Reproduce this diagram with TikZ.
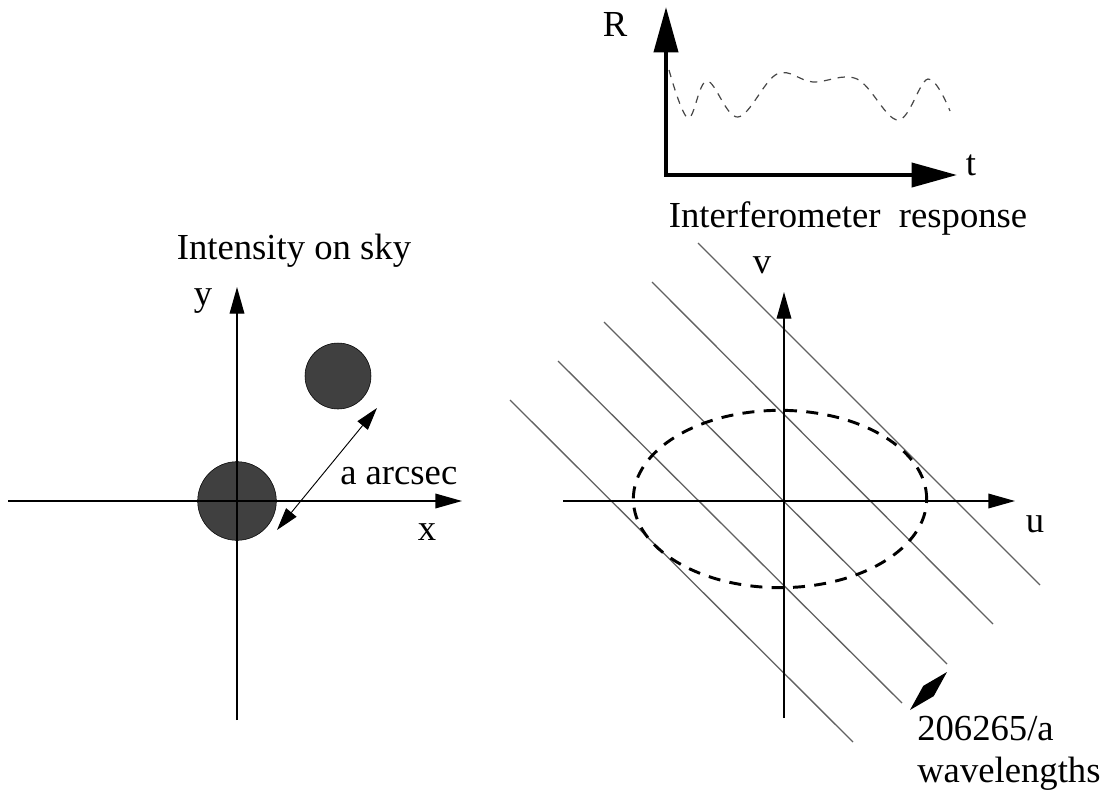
\documentclass[tikz,border=0pt]{standalone}
\usepackage{fontspec}
\setmainfont{Liberation Serif}
\usetikzlibrary{arrows.meta,calc}
\begin{document}
\begin{tikzpicture}[x=0.75pt,y=-0.75pt,
  lbl/.style={font=\fontsize{27.5}{33}\selectfont, inner sep=0pt, anchor=base},
  lblw/.style={font=\fontsize{27.5}{33}\selectfont, inner sep=0pt, anchor=base west},
  thinaxis/.style={line width=1pt, -{Triangle[length=20pt,width=11pt]}},
  bigaxis/.style={line width=3pt, line join=miter, {Triangle[length=34pt,width=18pt]}-{Triangle[length=34pt,width=18pt]}},
  sep/.style={line width=0.7pt, {Triangle[length=17pt,width=10pt]}-{Triangle[length=17pt,width=10pt]}},
  fringe/.style={line width=1pt, draw=black!62},
  ell/.style={line width=2.2pt, dash pattern=on 9pt off 7pt},
  resp/.style={line width=0.9pt, draw=black!72, dash pattern=on 5.5pt off 5pt},
  blob/.style={circle, fill=black!75, draw=black, line width=0.4pt, inner sep=0pt}]
\useasboundingbox (0,0) rectangle (1108,794);

% ---------- response plot (top) ----------
\coordinate (rtip) at (666,7);
\coordinate (corner) at (666,175);
\coordinate (ttip) at (957,175);
\draw[bigaxis] (rtip) -- (corner) -- (ttip);
\draw[resp] plot[smooth, tension=0.6] coordinates {(669,70) (688,118) (707,81) (738,117) (777,74) (813,82) (857,79) (898,120) (928,79) (950,111)};
\node[lbl] (R) at (615,36) {R};
\node[lbl] (t) at (971,175) {t};
\node[lbl] (resp) at (848,227) {Interferometer\ \ response};

% ---------- sky plot (left) ----------
\node[lbl] (sky) at (294,259) {Intensity on sky};
\coordinate (xl) at (8,501);
\coordinate (xr) at (462,501);
\coordinate (yb) at (237,720);
\coordinate (yt) at (237,287);
\node[blob, minimum size=59pt] (c1) at (237,501) {};
\node[blob, minimum size=49.5pt] (c2) at (338,376) {};
\draw[thinaxis] (xl) -- (xr);
\draw[thinaxis] (yb) -- (yt);
\node[lbl] (ylab) at (203,305) {y};
\node[lbl] (xlab) at (427,540) {x};
\coordinate (s1) at (277,530);
\coordinate (s2) at (377,408);
\draw[sep] (s1) -- (s2);
\node[lblw] (arc) at (340,484) {a arcsec};

% ---------- uv plane (right) ----------
\foreach \i/\xa/\ya/\xb/\yb in {1/510/400/853/742, 2/558/361/902/703, 3/604/322/947/664, 4/652/282/993/624, 5/698/243/1040/585}{
  \coordinate (fa\i) at (\xa,\ya);
  \coordinate (fb\i) at (\xb,\yb);
  \draw[fringe] (fa\i) -- (fb\i);
}
\coordinate (ul) at (563,501);
\coordinate (ur) at (1015,501);
\coordinate (vb) at (784,718);
\coordinate (vt) at (784,292);
\draw[thinaxis] (ul) -- (ur);
\draw[thinaxis] (vb) -- (vt);
\draw[ell] (780,499) ellipse [x radius=110pt, y radius=66.5pt];
\node[lbl] (vlab) at (762,273) {v};
\node[lbl] (ulab) at (1035,532) {u};
% double arrow between fringes: two solid heads meeting in the middle
\coordinate (w1) at (910,710);
\coordinate (w2) at (947,672);
\coordinate (wm) at ($(w1)!0.5!(w2)$);
\fill (w1) -- ($(wm)!5.5pt!90:(w2)$) -- (w2) -- ($(wm)!5.5pt!-90:(w2)$) -- cycle;
\node[lblw] (wl1) at (917,740) {206265/a};
\node[lblw] (wl2) at (917,782) {wavelengths};
\end{tikzpicture}
\end{document}
